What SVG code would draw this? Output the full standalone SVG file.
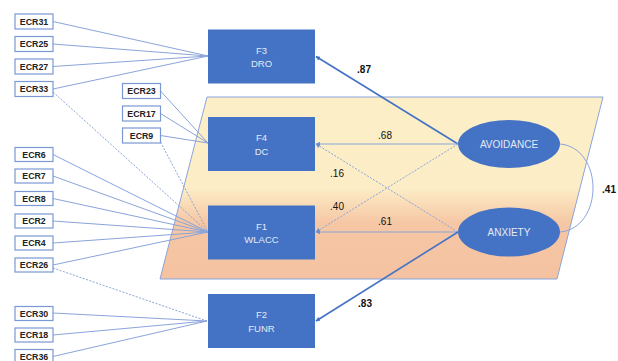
<svg xmlns="http://www.w3.org/2000/svg" width="618" height="361" viewBox="0 0 618 361">
<defs>
<linearGradient id="bg" x1="0" y1="97" x2="0" y2="279" gradientUnits="userSpaceOnUse">
<stop offset="0" stop-color="#FCEFC8"/>
<stop offset="0.5" stop-color="#FCEDC6"/>
<stop offset="0.69" stop-color="#F6C7A5"/>
<stop offset="1" stop-color="#F4C2A0"/>
</linearGradient>
<marker id="ah" viewBox="0 0 10 10" refX="9" refY="5" markerWidth="4.5" markerHeight="4.5" markerUnits="userSpaceOnUse" orient="auto">
<path d="M0,0 L10,5 L0,10 z" fill="#4472C4"/>
</marker>
<marker id="ahl" viewBox="0 0 10 10" refX="9" refY="5" markerWidth="4.5" markerHeight="4.5" markerUnits="userSpaceOnUse" orient="auto">
<path d="M0,0 L10,5 L0,10 z" fill="#6F8FD0"/>
</marker>
</defs>
<style>
.ind rect{fill:#fff;stroke:#7A98D4;stroke-width:1.2}
.ind text{font-family:"Liberation Sans",Arial,sans-serif;font-size:8.8px;font-weight:bold;fill:#222;text-anchor:middle}
.fac rect{fill:#4472C4}
.fac text{font-family:"Liberation Sans",Arial,sans-serif;font-size:9.5px;fill:#E4EAF4;text-anchor:middle}
.lat ellipse{fill:#4472C4}
.lat text{font-family:"Liberation Sans",Arial,sans-serif;font-size:10px;fill:#E4EAF4;text-anchor:middle}
.thin{stroke:#8AA4DA;stroke-width:1;fill:none}
.dash{stroke:#8AA4DA;stroke-width:1;fill:none;stroke-dasharray:2 1.5}
.thick{stroke:#4472C4;stroke-width:1.6;fill:none}
.lbl{font-family:"Liberation Sans",Arial,sans-serif;font-size:10px;fill:#111;text-anchor:middle}
.b{font-weight:bold}
</style>
<polygon id="plane" points="207,97 603,97 557,279 160,279" fill="url(#bg)" stroke="#8AA4DA" stroke-width="1"/>
<g id="connectors">
<line class="thin" x1="53" y1="21.5" x2="208" y2="56"/>
<line class="thin" x1="53" y1="44" x2="208" y2="56"/>
<line class="thin" x1="53" y1="66.5" x2="208" y2="56"/>
<line class="thin" x1="53" y1="89" x2="208" y2="56"/>
<line class="dash" x1="53" y1="92" x2="208" y2="232"/>
<line class="thin" x1="160.5" y1="91" x2="208" y2="143"/>
<line class="thin" x1="160.5" y1="113.5" x2="208" y2="143"/>
<line class="thin" x1="160.5" y1="135.5" x2="208" y2="143"/>
<line class="dash" x1="160.5" y1="142" x2="208" y2="232"/>
<line class="thin" x1="53" y1="154.5" x2="208" y2="232"/>
<line class="thin" x1="53" y1="176" x2="208" y2="232"/>
<line class="thin" x1="53" y1="198.5" x2="208" y2="232"/>
<line class="thin" x1="53" y1="221" x2="208" y2="232"/>
<line class="thin" x1="53" y1="243" x2="208" y2="232"/>
<line class="thin" x1="53" y1="265" x2="208" y2="232"/>
<line class="dash" x1="53" y1="268" x2="207" y2="321"/>
<line class="thin" x1="53" y1="313" x2="207" y2="321"/>
<line class="thin" x1="53" y1="335" x2="207" y2="321"/>
<line class="thin" x1="53" y1="356.5" x2="207" y2="321"/>
<line class="thick" x1="458" y1="144" x2="316" y2="56.5" marker-end="url(#ah)"/>
<line class="thin" x1="458" y1="144" x2="316" y2="144" marker-end="url(#ahl)"/>
<line class="dash" x1="458" y1="144" x2="316" y2="232" marker-end="url(#ahl)"/>
<line class="dash" x1="458" y1="232" x2="316" y2="144" marker-end="url(#ahl)"/>
<line class="thin" x1="458" y1="232" x2="316" y2="232" marker-end="url(#ahl)"/>
<line class="thick" x1="458" y1="232" x2="316" y2="321" marker-end="url(#ah)"/>
<path class="thin" d="M560,144 C604,148 604,228 560,232"/>
</g>
<g id="ECR31" class="ind"><rect x="15" y="14" width="38" height="15"/><text x="34" y="24.7">ECR31</text></g>
<g id="ECR25" class="ind"><rect x="15" y="36.5" width="38" height="15"/><text x="34" y="47.2">ECR25</text></g>
<g id="ECR27" class="ind"><rect x="15" y="59" width="38" height="15"/><text x="34" y="69.7">ECR27</text></g>
<g id="ECR33" class="ind"><rect x="15" y="81.5" width="38" height="15"/><text x="34" y="92.2">ECR33</text></g>
<g id="ECR23" class="ind"><rect x="122.5" y="83.5" width="38" height="15"/><text x="141.5" y="94.2">ECR23</text></g>
<g id="ECR17" class="ind"><rect x="122.5" y="106" width="38" height="15"/><text x="141.5" y="116.7">ECR17</text></g>
<g id="ECR9" class="ind"><rect x="122.5" y="128" width="38" height="15"/><text x="141.5" y="138.7">ECR9</text></g>
<g id="ECR6" class="ind"><rect x="15" y="147.5" width="38" height="14"/><text x="34" y="157.7">ECR6</text></g>
<g id="ECR7" class="ind"><rect x="15" y="169" width="38" height="14"/><text x="34" y="179.2">ECR7</text></g>
<g id="ECR8" class="ind"><rect x="15" y="191.5" width="38" height="14"/><text x="34" y="201.7">ECR8</text></g>
<g id="ECR2" class="ind"><rect x="15" y="214" width="38" height="14"/><text x="34" y="224.2">ECR2</text></g>
<g id="ECR4" class="ind"><rect x="15" y="236" width="38" height="14"/><text x="34" y="246.2">ECR4</text></g>
<g id="ECR26" class="ind"><rect x="15" y="258" width="38" height="14"/><text x="34" y="268.2">ECR26</text></g>
<g id="ECR30" class="ind"><rect x="15" y="306.5" width="38" height="14"/><text x="34" y="316.7">ECR30</text></g>
<g id="ECR18" class="ind"><rect x="15" y="328" width="38" height="14"/><text x="34" y="338.2">ECR18</text></g>
<g id="ECR36" class="ind"><rect x="15" y="349.5" width="38" height="14"/><text x="34" y="359.7">ECR36</text></g>
<g id="F3" class="fac"><rect x="208" y="29.5" width="107" height="54"/><text x="261.5" y="53.5">F3</text><text x="261.5" y="67">DRO</text></g>
<g id="F4" class="fac"><rect x="208" y="117" width="107" height="54"/><text x="261.5" y="141">F4</text><text x="261.5" y="154.5">DC</text></g>
<g id="F1" class="fac"><rect x="208" y="205.5" width="107" height="54"/><text x="261.5" y="229.5">F1</text><text x="261.5" y="243">WLACC</text></g>
<g id="F2" class="fac"><rect x="208" y="294" width="107" height="54"/><text x="261.5" y="318">F2</text><text x="261.5" y="331.5">FUNR</text></g>
<g id="AVOIDANCE" class="lat"><ellipse cx="509" cy="144" rx="51" ry="24"/><text x="509" y="147.5">AVOIDANCE</text></g>
<g id="ANXIETY" class="lat"><ellipse cx="509" cy="232" rx="51" ry="24.5"/><text x="509" y="235.5">ANXIETY</text></g>
<g id="labels">
<text class="lbl b" x="364" y="72.5">.87</text>
<text class="lbl" x="385" y="138.5">.68</text>
<text class="lbl" x="337" y="176.5">.16</text>
<text class="lbl" x="337" y="209.5">.40</text>
<text class="lbl" x="385" y="224.5">.61</text>
<text class="lbl b" x="365" y="306.5">.83</text>
<text class="lbl b" x="609" y="192.5">.41</text>
</g>
</svg>
